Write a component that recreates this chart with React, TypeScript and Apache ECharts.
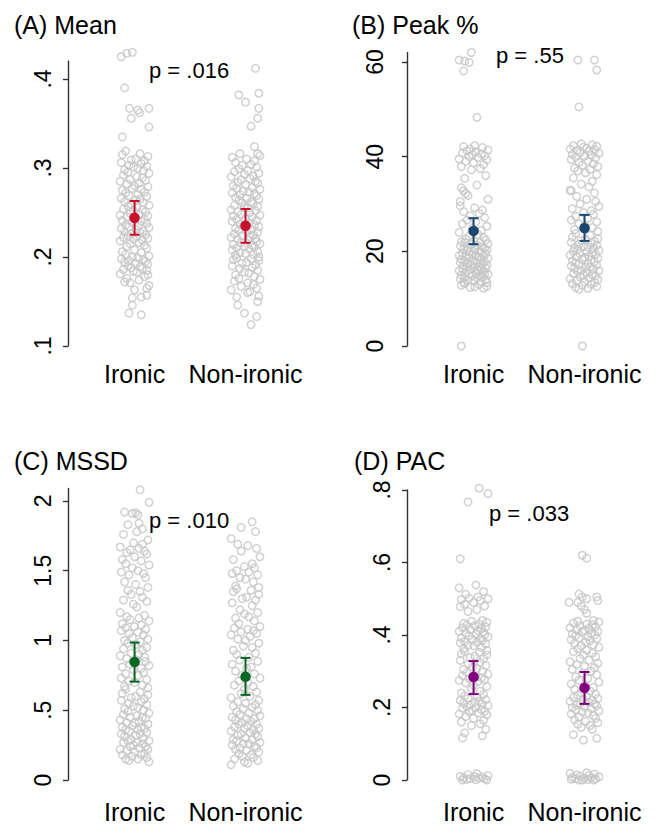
import React, { useEffect, useRef } from "react";
import * as echarts from "echarts";

const CATEGORIES = ["Ironic", "Non-ironic"];
const TITLES = ["(A) Mean", "(B) Peak %", "(C) MSSD", "(D) PAC"];
const P_LABELS = ["p = .016", "p = .55", "p = .010", "p = .033"];
const MEAN_COLORS = ["#c8102e", "#1a476f", "#0b6623", "#800080"];

// y-axis ticks per panel
const Y_TICKS_A = [0.1, 0.2, 0.3, 0.4];
const Y_TICKS_B = [0, 20, 40, 60];
const Y_TICKS_C = [0, 0.5, 1, 1.5, 2];
const Y_TICKS_D = [0, 0.2, 0.4, 0.6, 0.8];

// horizontal jitter offsets (fraction of category spacing), read from the strips
const JITTER = [
  -0.08, 0.05, -0.11, 0.12, 0.01, -0.03, 0.09, -0.12, 0.06, -0.05,
  0.11, -0.01, 0.03, -0.09, 0.08, -0.06, 0.13, -0.1, 0.02, 0.07,
  -0.04, 0.1, -0.13, 0.04, -0.07, 0.0, 0.12, -0.02, 0.06, -0.11,
  0.09, -0.08, 0.03, -0.05, 0.11, -0.12, 0.05, 0.01, -0.09, 0.08,
  -0.03, 0.13, -0.06, 0.02, -0.1, 0.07, -0.01, 0.1, -0.04, 0.04,
  -0.13, 0.12, -0.07, 0.0, 0.09, -0.11, 0.06, -0.02, 0.11, -0.08,
  0.03, -0.05, 0.13, -0.12, 0.01, 0.08, -0.09, 0.05, -0.03, 0.1,
  -0.06, 0.02, -0.1, 0.12, -0.01, 0.07, -0.13, 0.04, -0.04, 0.09,
  -0.07, 0.11, 0.0, -0.11, 0.06, -0.08, 0.13, -0.02, 0.03, -0.12,
  0.08, -0.05, 0.1, -0.09, 0.01, 0.12, -0.06, 0.05, -0.03, 0.07,
  -0.1, 0.11, -0.01, 0.02, -0.13, 0.09, -0.07, 0.04, -0.04, 0.13,
  -0.11, 0.06, 0.0, -0.08, 0.1, -0.12, 0.03, -0.05, 0.08, -0.02,
  0.12, -0.09, 0.05, -0.06, 0.01, 0.11, -0.1, 0.07, -0.03, 0.04,
  -0.13, 0.09, -0.07, 0.02, 0.1, -0.04, 0.13, -0.11, 0.06, -0.01,
  0.08, -0.08, 0.03, -0.12, 0.11, -0.05, 0.0, 0.07, -0.09, 0.12,
];

// ---------- (A) Mean ----------
const A_IRONIC_OUT = [
  [-0.02, 0.43], [-0.07, 0.429], [-0.12, 0.425], [-0.09, 0.39], [-0.045, 0.367],
  [0.03, 0.365], [0.045, 0.362], [0.13, 0.367], [-0.03, 0.356], [0.13, 0.346],
  [-0.11, 0.335], [-0.09, 0.172], [0.0, 0.163], [-0.02, 0.154], [-0.02, 0.146],
  [0.06, 0.155], [0.11, 0.157], [-0.05, 0.137], [0.06, 0.135], [0.11, 0.165], [0.12, 0.18],
];
const A_IRONIC = [
  0.319, 0.316, 0.315, 0.313, 0.31, 0.309, 0.308, 0.306, 0.305, 0.303, 0.302, 0.301, 0.3,
  0.298, 0.297, 0.295, 0.294, 0.292, 0.29, 0.289, 0.287, 0.286, 0.285, 0.283, 0.282, 0.28,
  0.279, 0.277, 0.276, 0.275, 0.273, 0.272, 0.27, 0.269, 0.268, 0.266, 0.265, 0.264, 0.262,
  0.261, 0.259, 0.258, 0.257, 0.256, 0.254, 0.253, 0.252, 0.251, 0.249, 0.248, 0.247, 0.246,
  0.245, 0.243, 0.242, 0.241, 0.24, 0.239, 0.238, 0.236, 0.235, 0.234, 0.233, 0.232, 0.231,
  0.229, 0.228, 0.227, 0.226, 0.225, 0.224, 0.223, 0.222, 0.221, 0.22, 0.219, 0.218, 0.216,
  0.215, 0.213, 0.212, 0.21, 0.208, 0.206, 0.205, 0.203, 0.201, 0.2, 0.199, 0.198, 0.197,
  0.196, 0.195, 0.194, 0.193, 0.192, 0.19, 0.189, 0.188, 0.187, 0.186, 0.185, 0.184, 0.183,
  0.181, 0.178, 0.176, 0.174, 0.171, 0.168,
];
const A_NON_OUT = [
  [0.09, 0.412], [-0.06, 0.382], [0.0, 0.374], [0.12, 0.384], [0.12, 0.367], [0.11, 0.356],
  [0.05, 0.347], [0.08, 0.324], [0.11, 0.316], [-0.08, 0.155], [-0.07, 0.146], [-0.01, 0.137],
  [0.1, 0.133], [0.05, 0.124], [0.11, 0.15], [0.12, 0.156], [0.02, 0.16],
];
const A_NON = [
  0.316, 0.314, 0.312, 0.31, 0.308, 0.306, 0.304, 0.303, 0.301, 0.299, 0.297, 0.296, 0.294,
  0.293, 0.291, 0.29, 0.288, 0.287, 0.285, 0.284, 0.283, 0.281, 0.28, 0.278, 0.277, 0.276,
  0.274, 0.273, 0.272, 0.271, 0.27, 0.269, 0.267, 0.266, 0.265, 0.264, 0.262, 0.261, 0.26,
  0.258, 0.257, 0.256, 0.255, 0.253, 0.252, 0.251, 0.25, 0.248, 0.247, 0.246, 0.245, 0.243,
  0.242, 0.241, 0.24, 0.238, 0.237, 0.236, 0.235, 0.234, 0.232, 0.231, 0.23, 0.229, 0.228,
  0.226, 0.225, 0.224, 0.223, 0.222, 0.221, 0.22, 0.219, 0.217, 0.216, 0.215, 0.214, 0.213,
  0.212, 0.211, 0.21, 0.209, 0.208, 0.206, 0.205, 0.204, 0.203, 0.202, 0.2, 0.199, 0.198,
  0.197, 0.196, 0.194, 0.193, 0.191, 0.19, 0.188, 0.187, 0.185, 0.183, 0.182, 0.18, 0.178,
  0.176, 0.175, 0.173, 0.171, 0.169, 0.167, 0.165, 0.163, 0.161,
];

// ---------- (B) Peak % ----------
const B_IRONIC_OUT = [
  [-0.11, 0], [-0.13, 60.4], [-0.08, 60.2], [-0.04, 59.9], [-0.02, 62], [-0.09, 58.1], [0.03, 48.3],
  [-0.11, 33.4], [-0.09, 32.8], [-0.07, 32.2], [-0.12, 30.5],
];
const B_IRONIC = [
  42.3, 42.1, 41.9, 41.6, 41.4, 41.2, 41.0, 40.8, 40.6, 40.4, 40.2, 40.0, 39.8, 39.5, 39.3,
  39.0, 38.7, 38.3, 37.9, 37.5, 37.2, 36.0, 35.4, 34.0, 31.8, 31.0, 29.6, 29.2, 28.7, 28.4,
  28.0, 27.5, 27.1, 26.6, 26.2, 25.8, 25.3, 24.9, 24.4, 24.0, 23.6, 23.2, 22.9, 22.6, 22.4,
  22.2, 22.0, 21.9, 21.8, 21.6, 21.5, 21.3, 21.1, 20.9, 20.8, 20.6, 20.5, 20.4, 20.3, 20.1,
  20.0, 19.9, 19.8, 19.6, 19.5, 19.3, 19.2, 19.1, 19.0, 18.9, 18.8, 18.6, 18.5, 18.3, 18.2,
  18.1, 18.0, 17.8, 17.7, 17.6, 17.5, 17.3, 17.2, 17.1, 17.0, 16.8, 16.7, 16.6, 16.5, 16.3,
  16.2, 16.1, 16.0, 15.9, 15.8, 15.6, 15.5, 15.3, 15.2, 15.1, 15.0, 14.9, 14.8, 14.6, 14.5,
  14.4, 14.2, 14.0, 13.9, 13.8, 13.6, 13.5, 13.4, 13.2, 13.0, 12.8, 12.6, 12.5, 12.4, 12.2,
];
const B_NON_OUT = [
  [-0.02, 0], [-0.06, 60.4], [0.09, 60.4], [0.11, 58.3], [-0.05, 50.5], [-0.12, 32.8],
];
const B_NON = [
  42.7, 42.5, 42.3, 42.2, 42.0, 41.8, 41.6, 41.5, 41.3, 41.1, 40.9, 40.7, 40.5, 40.3, 40.1,
  39.9, 39.7, 39.4, 39.1, 38.8, 38.5, 38.2, 37.9, 37.6, 37.3, 37.0, 36.6, 36.2, 35.5, 34.8,
  34.2, 33.6, 32.9, 32.3, 31.6, 31.0, 30.5, 30.0, 29.5, 29.0, 28.6, 28.2, 27.8, 27.4, 27.0,
  26.6, 26.2, 25.8, 25.4, 25.0, 24.6, 24.2, 23.8, 23.4, 23.0, 22.7, 22.5, 22.3, 22.1, 21.9,
  21.7, 21.5, 21.3, 21.1, 20.9, 20.8, 20.6, 20.4, 20.2, 20.0, 19.9, 19.7, 19.5, 19.4, 19.2,
  19.0, 18.8, 18.7, 18.5, 18.3, 18.1, 18.0, 17.8, 17.6, 17.4, 17.3, 17.1, 16.9, 16.7, 16.6,
  16.4, 16.2, 16.0, 15.9, 15.7, 15.5, 15.3, 15.1, 15.0, 14.8, 14.6, 14.4, 14.2, 14.0, 13.8,
  13.6, 13.4, 13.2, 13.0, 12.8, 12.6, 12.4, 12.2, 12.0,
];

// ---------- (C) MSSD ----------
const C_IRONIC_OUT = [
  [0.05, 2.08], [0.13, 1.99], [-0.09, 1.92], [-0.02, 1.91], [0.01, 1.915], [0.03, 1.9],
  [-0.06, 1.83], [0.04, 1.84], [0.07, 1.8],
];
const C_IRONIC = [
  1.78, 1.76, 1.72, 1.7, 1.69, 1.67, 1.66, 1.65, 1.64, 1.63, 1.62, 1.6, 1.58, 1.57, 1.55,
  1.54, 1.52, 1.5, 1.49, 1.48, 1.47, 1.45, 1.42, 1.4, 1.38, 1.36, 1.35, 1.33, 1.31, 1.29,
  1.28, 1.26, 1.24, 1.2, 1.18, 1.17, 1.16, 1.15, 1.14, 1.12, 1.11, 1.1, 1.09, 1.08, 1.07,
  1.06, 1.05, 1.04, 1.02, 1.01, 1.0, 0.99, 0.98, 0.97, 0.95, 0.94, 0.93, 0.91, 0.9, 0.89,
  0.88, 0.87, 0.86, 0.85, 0.83, 0.82, 0.81, 0.8, 0.79, 0.77, 0.76, 0.75, 0.73, 0.72, 0.71,
  0.7, 0.68, 0.67, 0.66, 0.65, 0.63, 0.62, 0.61, 0.6, 0.59, 0.58, 0.57, 0.56, 0.55, 0.54,
  0.53, 0.52, 0.51, 0.5, 0.49, 0.48, 0.47, 0.46, 0.45, 0.45, 0.44, 0.43, 0.42, 0.41, 0.41,
  0.4, 0.39, 0.38, 0.38, 0.37, 0.36, 0.36, 0.35, 0.34, 0.33, 0.33, 0.32, 0.31, 0.3, 0.29,
  0.28, 0.28, 0.27, 0.27, 0.26, 0.25, 0.24, 0.24, 0.23, 0.22, 0.22, 0.21, 0.2, 0.19, 0.18,
  0.18, 0.17, 0.16, 0.15, 0.15, 0.14, 0.13,
];
const C_NON_OUT = [[0.06, 1.85], [-0.04, 1.81], [0.09, 1.78], [-0.13, 1.73]];
const C_NON = [
  1.69, 1.68, 1.66, 1.64, 1.6, 1.58, 1.55, 1.53, 1.52, 1.5, 1.49, 1.48, 1.47, 1.45, 1.44,
  1.42, 1.39, 1.38, 1.37, 1.36, 1.35, 1.33, 1.31, 1.3, 1.29, 1.27, 1.25, 1.22, 1.2, 1.19,
  1.17, 1.16, 1.14, 1.12, 1.1, 1.09, 1.08, 1.07, 1.06, 1.05, 1.04, 1.03, 1.01, 1.0, 0.98,
  0.96, 0.95, 0.93, 0.91, 0.9, 0.88, 0.86, 0.85, 0.83, 0.81, 0.8, 0.78, 0.76, 0.75, 0.73,
  0.71, 0.7, 0.68, 0.67, 0.65, 0.63, 0.62, 0.6, 0.59, 0.57, 0.56, 0.55, 0.54, 0.53, 0.52,
  0.51, 0.5, 0.49, 0.48, 0.47, 0.46, 0.45, 0.44, 0.44, 0.43, 0.42, 0.41, 0.4, 0.4, 0.39,
  0.38, 0.37, 0.37, 0.36, 0.35, 0.34, 0.33, 0.33, 0.32, 0.31, 0.3, 0.29, 0.29, 0.28, 0.27,
  0.26, 0.26, 0.25, 0.24, 0.23, 0.23, 0.22, 0.21, 0.2, 0.19, 0.18, 0.17, 0.16, 0.15, 0.14,
  0.13, 0.12, 0.11,
];

// ---------- (D) PAC ----------
const D_IRONIC_OUT = [
  [0.05, 0.805], [0.13, 0.79], [-0.05, 0.767], [-0.12, 0.61], [-0.1, 0.116], [0.08, 0.122],
];
const D_IRONIC = [
  0.538, 0.53, 0.52, 0.512, 0.505, 0.502, 0.5, 0.498, 0.495, 0.49, 0.485, 0.48, 0.478, 0.47,
  0.465, 0.44, 0.438, 0.435, 0.432, 0.43, 0.428, 0.425, 0.422, 0.42, 0.418, 0.415, 0.412,
  0.41, 0.408, 0.405, 0.402, 0.4, 0.398, 0.395, 0.392, 0.39, 0.388, 0.385, 0.382, 0.38,
  0.378, 0.375, 0.372, 0.37, 0.366, 0.362, 0.358, 0.355, 0.352, 0.348, 0.345, 0.342, 0.338,
  0.335, 0.33, 0.325, 0.32, 0.316, 0.312, 0.308, 0.305, 0.3, 0.296, 0.292, 0.288, 0.285,
  0.282, 0.28, 0.278, 0.275, 0.272, 0.268, 0.262, 0.258, 0.252, 0.245, 0.24, 0.236, 0.232,
  0.228, 0.225, 0.222, 0.22, 0.218, 0.215, 0.212, 0.21, 0.208, 0.205, 0.202, 0.2, 0.198,
  0.195, 0.192, 0.19, 0.188, 0.185, 0.182, 0.18, 0.175, 0.17, 0.165, 0.16, 0.155, 0.15,
  0.14, 0.13, 0.018, 0.015, 0.012, 0.01, 0.009, 0.008, 0.006, 0.005, 0.004, 0.003, 0.002,
  0.001, 0.0, 0.0,
];
const D_NON_OUT = [
  [-0.02, 0.62], [0.02, 0.612], [-0.05, 0.513], [-0.02, 0.505], [0.02, 0.5], [0.11, 0.505],
  [0.12, 0.495], [-0.14, 0.49], [-0.06, 0.49], [-0.03, 0.48], [0.0, 0.47], [0.02, 0.46],
];
const D_NON = [
  0.44, 0.438, 0.436, 0.433, 0.43, 0.428, 0.425, 0.423, 0.42, 0.418, 0.415, 0.413, 0.41,
  0.408, 0.405, 0.403, 0.4, 0.398, 0.395, 0.392, 0.39, 0.387, 0.384, 0.38, 0.377, 0.373,
  0.37, 0.366, 0.362, 0.358, 0.354, 0.35, 0.345, 0.34, 0.335, 0.33, 0.326, 0.322, 0.318,
  0.314, 0.31, 0.305, 0.3, 0.295, 0.29, 0.285, 0.28, 0.275, 0.27, 0.265, 0.26, 0.255,
  0.25, 0.245, 0.24, 0.237, 0.234, 0.231, 0.228, 0.225, 0.222, 0.22, 0.217, 0.214, 0.212,
  0.21, 0.207, 0.204, 0.202, 0.2, 0.197, 0.194, 0.191, 0.188, 0.185, 0.182, 0.178, 0.174,
  0.17, 0.166, 0.162, 0.158, 0.154, 0.15, 0.145, 0.14, 0.125, 0.115, 0.11, 0.02, 0.018,
  0.016, 0.014, 0.012, 0.01, 0.009, 0.008, 0.006, 0.005, 0.004, 0.003, 0.002, 0.001, 0.0,
  0.0, 0.0,
];

// means with 95% CI: [mean, lo, hi] for Ironic, Non-ironic
const MEANS_A = [[0.244, 0.225, 0.263], [0.235, 0.216, 0.254]];
const MEANS_B = [[24.3, 21.5, 27.0], [24.9, 22.2, 27.7]];
const MEANS_C = [[0.846, 0.705, 0.985], [0.74, 0.61, 0.875]];
const MEANS_D = [[0.284, 0.237, 0.328], [0.254, 0.21, 0.298]];

const FONT = "'Liberation Sans', Arial, Helvetica, sans-serif";

const PANELS = [
  { grid: { left: 68, top: 61.2, width: 233, height: 284.8 }, yMin: 0.1, yMax: 0.42, ticks: Y_TICKS_A, labelMargin: 14, xMargin: 15,
    ironic: A_IRONIC, ironicOut: A_IRONIC_OUT, non: A_NON, nonOut: A_NON_OUT, means: MEANS_A,
    title: { x: 14, y: 25 }, p: { x: 149, y: 70 }, shift: 0 },
  { grid: { left: 407, top: 52.5, width: 233, height: 293.5 }, yMin: 0, yMax: 62, ticks: Y_TICKS_B, labelMargin: 21, xMargin: 15,
    ironic: B_IRONIC, ironicOut: B_IRONIC_OUT, non: B_NON, nonOut: B_NON_OUT, means: MEANS_B,
    title: { x: 352, y: 25 }, p: { x: 496, y: 55 }, shift: 37 },
  { grid: { left: 68, top: 488.4, width: 233, height: 291.6 }, yMin: 0, yMax: 2.09, ticks: Y_TICKS_C, labelMargin: 14, xMargin: 19,
    ironic: C_IRONIC, ironicOut: C_IRONIC_OUT, non: C_NON, nonOut: C_NON_OUT, means: MEANS_C,
    title: { x: 14, y: 461 }, p: { x: 149, y: 520 }, shift: 71 },
  { grid: { left: 407, top: 490, width: 233, height: 290 }, yMin: 0, yMax: 0.8, ticks: Y_TICKS_D, labelMargin: 14, xMargin: 19,
    ironic: D_IRONIC, ironicOut: D_IRONIC_OUT, non: D_NON, nonOut: D_NON_OUT, means: MEANS_D,
    title: { x: 354, y: 461 }, p: { x: 489, y: 513.5 }, shift: 103 },
];

const fmtTick = (v: number) => (v === 0 ? "0" : String(+v.toFixed(2)).replace(/^0\./, "."));

export default function App() {
  const ref = useRef<HTMLDivElement>(null);
  useEffect(() => {
    if (!ref.current) return;
    const chart = echarts.init(ref.current, undefined, { renderer: "svg" });
    const grids: any[] = [];
    const xAxes: any[] = [];
    const yAxes: any[] = [];
    const series: any[] = [];
    const graphics: any[] = [];
    PANELS.forEach((p, k) => {
      grids.push({ ...p.grid });
      xAxes.push({
        type: "value", gridIndex: k, min: 0.4, max: 2.5,
        axisLine: { show: false }, axisTick: { show: false }, splitLine: { show: false },
        axisLabel: {
          customValues: [1, 2], margin: p.xMargin, fontSize: 25, color: "#000", fontFamily: FONT,
          formatter: (v: number) => CATEGORIES[Math.round(v) - 1] || "",
        },
      });
      yAxes.push({
        type: "value", gridIndex: k, min: p.yMin, max: p.yMax,
        axisLine: { show: true, lineStyle: { color: "#333", width: 1.4 } },
        axisTick: { show: true, customValues: p.ticks, length: 5, lineStyle: { color: "#333", width: 1.4 } },
        splitLine: { show: false },
        axisLabel: {
          customValues: p.ticks, rotate: 90, margin: p.labelMargin, fontSize: 23, color: "#000", fontFamily: FONT,
          formatter: (v: number) => fmtTick(v),
        },
      });
      const pts: number[][] = [];
      p.ironic.forEach((y, i) => pts.push([1 + JITTER[(i + p.shift) % JITTER.length], y]));
      p.ironicOut.forEach(([dx, y]) => pts.push([1 + dx, y]));
      p.non.forEach((y, i) => pts.push([2 + JITTER[(i + p.shift + 61) % JITTER.length], y]));
      p.nonOut.forEach(([dx, y]) => pts.push([2 + dx, y]));
      series.push({
        type: "scatter", xAxisIndex: k, yAxisIndex: k, symbol: "circle", symbolSize: 7.5, z: 2,
        clip: false,
        itemStyle: { color: "rgba(0,0,0,0)", borderColor: "#c6c6c6", borderWidth: 1.5 },
        data: pts, silent: true,
      });
      const color = MEAN_COLORS[k];
      series.push({
        type: "custom", xAxisIndex: k, yAxisIndex: k, z: 5, clip: false,
        encode: { x: 0, y: [1, 2] },
        data: p.means.map((m, i) => [i + 1, m[1], m[2]]),
        renderItem: (_params: any, api: any) => {
          const x = api.value(0), lo = api.value(1), hi = api.value(2);
          const t = api.coord([x, hi]);
          const b = api.coord([x, lo]);
          const w = 5;
          const style = { stroke: color, lineWidth: 2, fill: null };
          return {
            type: "group",
            children: [
              { type: "line", shape: { x1: t[0], y1: t[1], x2: b[0], y2: b[1] }, style },
              { type: "line", shape: { x1: t[0] - w, y1: t[1], x2: t[0] + w, y2: t[1] }, style },
              { type: "line", shape: { x1: b[0] - w, y1: b[1], x2: b[0] + w, y2: b[1] }, style },
            ],
          };
        },
      });
      series.push({
        type: "scatter", xAxisIndex: k, yAxisIndex: k, symbol: "circle", symbolSize: 10.5, z: 6,
        itemStyle: { color, opacity: 1 },
        data: p.means.map((m, i) => [i + 1, m[0]]),
      });
      graphics.push({
        type: "text", x: p.title.x, y: p.title.y,
        style: { text: TITLES[k], font: `25px ${FONT}`, fill: "#000", align: "left", verticalAlign: "middle" },
      });
      graphics.push({
        type: "text", x: p.p.x, y: p.p.y,
        style: { text: P_LABELS[k], font: `22px ${FONT}`, fill: "#000", align: "left", verticalAlign: "middle" },
      });
    });
    chart.setOption({
      animation: false,
      backgroundColor: "#fff",
      grid: grids,
      xAxis: xAxes,
      yAxis: yAxes,
      series,
      graphic: graphics,
    });
    return () => chart.dispose();
  }, []);
  return <div ref={ref} style={{ position: "absolute", left: 0, top: 0, width: 657, height: 824 }} />;
}
